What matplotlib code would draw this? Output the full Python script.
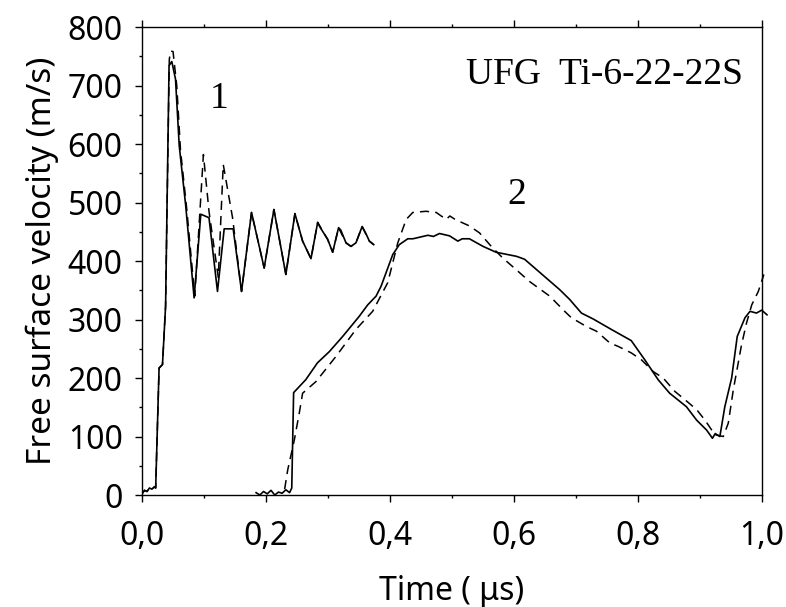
import numpy as np
import matplotlib.pyplot as plt
from matplotlib.ticker import MultipleLocator, FuncFormatter

plt.rcParams['font.family'] = ['Noto Sans', 'DejaVu Sans']

# curve 1, solid (UFG shot 1)
t1_solid = [0.000, 0.004, 0.008, 0.012, 0.016, 0.020, 0.022, 0.0275, 0.033, 0.038,
            0.0436, 0.048, 0.054, 0.060, 0.0705, 0.084, 0.0948, 0.108, 0.1217, 0.1325,
            0.147, 0.1605, 0.1766, 0.197, 0.2127, 0.232, 0.2466, 0.259, 0.2725, 0.2833,
            0.287, 0.2994, 0.3075, 0.317, 0.3205, 0.329, 0.337, 0.345, 0.355, 0.3615,
            0.3667, 0.3737]
v1_solid = [2, 8, 6, 12, 10, 14, 12, 217, 223, 323,
            734, 741, 711, 597, 494, 337, 480, 474, 348, 455,
            455, 348, 483, 388, 488, 377, 481, 434, 404, 466,
            458, 437, 415, 457, 453, 431, 425, 431, 459, 446,
            434, 428]

# curve 1, dashed
t1_dash = [0.000, 0.004, 0.008, 0.012, 0.016, 0.020, 0.022, 0.0275, 0.033, 0.038,
           0.044, 0.0463, 0.050, 0.056, 0.062, 0.072, 0.085, 0.099, 0.108, 0.123,
           0.131, 0.146, 0.1605, 0.1766, 0.197, 0.2127, 0.232, 0.2466, 0.259, 0.2725,
           0.2833, 0.2994, 0.3075, 0.317, 0.329, 0.337, 0.345, 0.355, 0.3667, 0.3737]
v1_dash = [2, 8, 6, 12, 10, 14, 12, 217, 223, 323,
           745, 759, 758, 700, 590, 490, 340, 582, 485, 372,
           565, 474, 348, 483, 388, 488, 377, 481, 434, 404,
           466, 437, 415, 457, 431, 425, 431, 459, 434, 428]

# curve 2, solid (UFG shot 2)
t2_solid = [0.184, 0.190, 0.196, 0.202, 0.208, 0.214, 0.220, 0.226, 0.232, 0.238,
            0.2415, 0.2445, 0.264, 0.283, 0.302, 0.3236, 0.350, 0.364, 0.3775, 0.3856,
            0.4044, 0.415, 0.4286, 0.437, 0.461, 0.470, 0.4798, 0.496, 0.5094, 0.5165,
            0.528, 0.550, 0.571, 0.604, 0.617, 0.6737, 0.690, 0.7087, 0.7275, 0.757,
            0.789, 0.811, 0.8325, 0.851, 0.878, 0.8945, 0.9106, 0.920, 0.9245, 0.932,
            0.940, 0.951, 0.960, 0.9725, 0.9806, 0.991, 0.9995, 1.008]
v2_solid = [4, 0, 6, 2, 8, 0, 5, 3, 9, 4,
            12, 175, 197, 226, 245, 271, 305, 325, 340, 357,
            411, 428, 438, 438, 444, 442, 447, 443, 434, 438,
            438, 425, 415, 408, 403, 351, 334, 311, 301, 283,
            264, 231, 197, 174, 151, 128, 111, 97, 105, 100,
            151, 200, 271, 303, 314, 311, 316, 308]

# curve 2, dashed
t2_dash = [0.230, 0.235, 0.2456, 0.2536, 0.259, 0.2806, 0.3129, 0.345, 0.372, 0.3963,
           0.4125, 0.426, 0.4367, 0.458, 0.4745, 0.4906, 0.4965, 0.505, 0.528, 0.5444,
           0.5633, 0.582, 0.6037, 0.625, 0.6575, 0.6817, 0.6925, 0.7168, 0.733, 0.7544,
           0.768, 0.789, 0.8056, 0.8244, 0.8406, 0.8595, 0.8756, 0.8945, 0.908, 0.924,
           0.9375, 0.9456, 0.9537, 0.967, 0.975, 0.9834, 0.994, 1.003]
v2_dash = [10, 43, 94, 140, 174, 194, 237, 283, 314, 363,
           431, 471, 483, 485, 483, 471, 477, 471, 460, 448,
           425, 405, 385, 365, 340, 314, 303, 288, 280, 260,
           254, 243, 231, 211, 200, 177, 163, 146, 128, 103,
           100, 123, 180, 257, 294, 325, 348, 377]

fig = plt.figure(figsize=(7.86, 6.07), dpi=100)
ax = fig.add_axes([0.1807, 0.1845, 0.7888, 0.771])

ax.plot(t1_dash, v1_dash, color='black', lw=1.1, ls=(0, (6, 4)))
ax.plot(t1_solid, v1_solid, color='black', lw=1.2)
ax.plot(t2_dash, v2_dash, color='black', lw=1.1, ls=(0, (6, 4)), clip_on=False)
ax.plot(t2_solid, v2_solid, color='black', lw=1.2, clip_on=False)

ax.set_xlim(0, 1.0)
ax.set_ylim(0, 800)
ax.xaxis.set_major_locator(MultipleLocator(0.2))
ax.xaxis.set_minor_locator(MultipleLocator(0.1))
ax.yaxis.set_major_locator(MultipleLocator(100))
ax.yaxis.set_minor_locator(MultipleLocator(50))
ax.xaxis.set_major_formatter(FuncFormatter(lambda x, p: f"{x:.1f}".replace('.', ',')))

ax.tick_params(which='both', direction='out', top=True, right=False,
               labelsize=23, width=1.0)
ax.tick_params(which='major', length=5)
ax.tick_params(which='minor', length=2.5)
ax.tick_params(axis='y', which='major', pad=9)
ax.tick_params(axis='x', which='major', pad=13)
for s in ax.spines.values():
    s.set_linewidth(1.0)

ax.set_xlabel('Time ( μs)', fontsize=23, labelpad=16)
ax.set_ylabel('Free surface velocity (m/s)', fontsize=24, labelpad=6)

ax.text(0.97, 0.878, 'UFG  Ti-6-22-22S', transform=ax.transAxes, ha='right', va='baseline',
        family='Liberation Serif', fontsize=27)
ax.text(0.124, 662, '1', family='Liberation Serif', fontsize=27, ha='center', va='baseline')
ax.text(0.604, 497, '2', family='Liberation Serif', fontsize=27, ha='center', va='baseline')

fig.savefig('out.png', dpi=100)
